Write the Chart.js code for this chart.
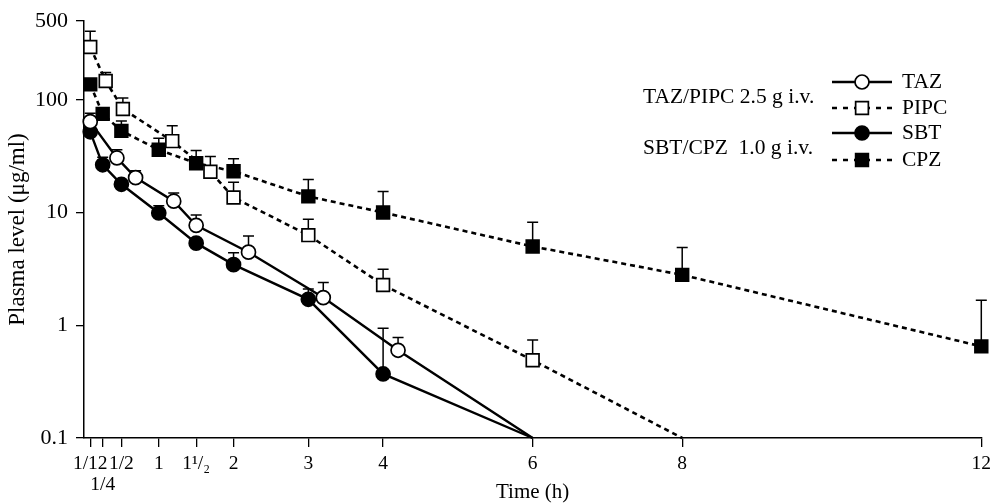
<!DOCTYPE html>
<html><head><meta charset="utf-8">
<script src="https://cdn.jsdelivr.net/npm/chart.js@4.4.1/dist/chart.umd.min.js"></script>
<style>html,body{margin:0;padding:0;background:#fff}#wrap{width:992px;height:503px}</style>
</head><body><div id="wrap"><canvas id="c" width="992" height="503"></canvas></div>
<script>
// ---- data (time in h, plasma level in µg/ml) ----
const tazTime = [1/12, 0.44, 0.69, 1.2, 1.5, 2.2, 3.2, 4.2, 6];
const tazVal  = [64, 30.5, 20.4, 12.6, 7.7, 4.45, 1.76, 0.6, 0.1];
const tazErr  = [76, 36, 23.5, 14.9, 9.5, 6.2, 2.4, 0.78, null];

const pipcTime = [1/12, 0.29, 0.52, 1.18, 1.69, 2, 3, 4, 6, 8];
const pipcVal  = [294, 147, 83, 43, 23, 13.6, 6.3, 2.28, 0.49, 0.1];
const pipcErr  = [405, 175, 104, 59, 31.4, 18.6, 8.7, 3.14, 0.74, null];

const sbtTime = [1/12, 0.25, 0.5, 1, 1.5, 2, 3, 4, 6];
const sbtVal  = [52, 26.5, 17.8, 9.9, 5.35, 3.45, 1.7, 0.37, 0.1];
const sbtErr  = [null, 31, null, 11.5, null, 4.4, 2.1, 0.94, null];

const cpzTime = [1/12, 0.25, 0.5, 1, 1.5, 2, 3, 4, 6, 8, 12];
const cpzVal  = [137, 75, 53, 36, 27.4, 23.2, 13.9, 10, 5.0, 2.8, 0.65];
const cpzErr  = [null, null, 65, 45.6, 35.5, 30, 19.6, 15.4, 8.2, 4.9, 1.67];

const xTickValues = [1/12, 1/4, 1/2, 1, 1.5, 2, 3, 4, 6, 8, 12];
const xTickLabels = ["1/12", ["", "1/4"], "1/2", "1", "1\u00B9/\u2082", "2", "3", "4", "6", "8", "12"];
const yTickValues = [0.1, 1, 10, 100, 500];
const yTickLabels = ["0.1", "1", "10", "100", "500"];

const groupLabels = ["TAZ/PIPC 2.5 g i.v.", "SBT/CPZ  1.0 g i.v."];

// ---- chart ----
const FONT = "'Liberation Serif', 'Times New Roman', serif";
const errs = [tazErr, pipcErr, sbtErr, cpzErr];

function pts(t, v) { return t.map((x, i) => ({x: x, y: v[i]})); }
function radii(v, r, lastHidden) { return v.map((_, i) => (lastHidden && i === v.length - 1) ? 0 : r); }

const dash = [5, 4];
const datasets = [
  {label: 'TAZ', data: pts(tazTime, tazVal), borderColor: '#000', borderWidth: 2.4, pointStyle: 'circle',
   pointRadius: radii(tazVal, 7, true), pointBackgroundColor: '#fff', pointBorderColor: '#000', pointBorderWidth: 1.7},
  {label: 'PIPC', data: pts(pipcTime, pipcVal), borderColor: '#000', borderWidth: 2.6, borderDash: dash, pointStyle: 'rect',
   pointRadius: radii(pipcVal, 9, true), pointBackgroundColor: '#fff', pointBorderColor: '#000', pointBorderWidth: 1.7},
  {label: 'SBT', data: pts(sbtTime, sbtVal), borderColor: '#000', borderWidth: 2.4, pointStyle: 'circle',
   pointRadius: radii(sbtVal, 7, true), pointBackgroundColor: '#000', pointBorderColor: '#000', pointBorderWidth: 1.7},
  {label: 'CPZ', data: pts(cpzTime, cpzVal), borderColor: '#000', borderWidth: 2.6, borderDash: dash, pointStyle: 'rect',
   pointRadius: radii(cpzVal, 9, false), pointBackgroundColor: '#000', pointBorderColor: '#000', pointBorderWidth: 1.7}
].map(d => Object.assign(d, {fill: false, tension: 0, clip: false, pointHoverRadius: d.pointRadius}));

const bgPlugin = {
  id: 'bg',
  beforeDraw(chart) { const c = chart.ctx; c.save(); c.fillStyle = '#fff'; c.fillRect(0, 0, chart.width, chart.height); c.restore(); }
};

const errorBarPlugin = {
  id: 'errbars',
  beforeDatasetsDraw(chart) {
    const ctx = chart.ctx, ys = chart.scales.y;
    ctx.save();
    ctx.strokeStyle = '#000'; ctx.lineWidth = 1.5; ctx.setLineDash([]);
    errs.forEach((arr, di) => {
      const meta = chart.getDatasetMeta(di);
      arr.forEach((e, j) => {
        if (e == null) return;
        const p = meta.data[j];
        const yt = ys.getPixelForValue(e);
        ctx.beginPath();
        ctx.moveTo(p.x, p.y); ctx.lineTo(p.x, yt);
        ctx.moveTo(p.x - 5.5, yt); ctx.lineTo(p.x + 5.5, yt);
        ctx.stroke();
      });
    });
    ctx.restore();
  }
};

function drawMarker(ctx, ds, x, y) {
  ctx.save();
  ctx.setLineDash([]);
  ctx.lineWidth = ds.pointBorderWidth;
  ctx.strokeStyle = ds.pointBorderColor;
  ctx.fillStyle = ds.pointBackgroundColor;
  ctx.beginPath();
  if (ds.pointStyle === 'circle') {
    ctx.arc(x, y, 7, 0, Math.PI * 2);
  } else {
    const s = 9 * Math.SQRT1_2;
    ctx.rect(x - s, y - s, 2 * s, 2 * s);
  }
  ctx.fill(); ctx.stroke();
  ctx.restore();
}

const legendPlugin = {
  id: 'customLegend',
  afterDraw(chart) {
    const ctx = chart.ctx;
    const rows = [82, 108, 133, 160];
    ctx.save();
    ctx.fillStyle = '#000';
    ctx.font = '21.5px ' + FONT;
    ctx.textBaseline = 'middle';
    ctx.textAlign = 'left';
    ctx.fillText(groupLabels[0], 643, 97);
    ctx.fillText(groupLabels[1], 643, 148);
    chart.data.datasets.forEach((ds, i) => {
      const y = rows[i];
      ctx.save();
      ctx.strokeStyle = '#000';
      ctx.lineWidth = ds.borderWidth;
      ctx.setLineDash(ds.borderDash ? [5, 6] : []);
      ctx.beginPath(); ctx.moveTo(832, y); ctx.lineTo(892, y); ctx.stroke();
      ctx.restore();
      drawMarker(ctx, ds, 862, y);
      ctx.fillStyle = '#000';
      ctx.fillText(ds.label, 902, y);
    });
    ctx.restore();
  }
};

new Chart(document.getElementById('c'), {
  type: 'line',
  data: {datasets},
  plugins: [bgPlugin, errorBarPlugin, legendPlugin],
  options: {
    responsive: false,
    animation: false,
    events: [],
    layout: {padding: {top: 21, right: 9, bottom: 0, left: 0}},
    plugins: {legend: {display: false}, tooltip: {enabled: false}},
    scales: {
      x: {
        type: 'linear', min: 0, max: 12,
        afterBuildTicks(s) { s.ticks = xTickValues.map(v => ({value: v})); },
        afterFit(s) { s.height = 65; s.paddingLeft = 0; s.paddingRight = 0; },
        ticks: {
          autoSkip: false, maxRotation: 0, color: '#000', padding: 6,
          font: {family: FONT, size: 19.5, lineHeight: 1.1},
          callback: (v, i) => xTickLabels[i]
        },
        grid: {display: true, drawOnChartArea: false, drawTicks: true, tickLength: 9, color: '#000', lineWidth: 1.3},
        border: {display: true, color: '#000', width: 1.5},
        title: {display: true, text: 'Time (h)', color: '#000', font: {family: FONT, size: 21, lineHeight: 1}, padding: {top: 0, bottom: 0}}
      },
      y: {
        type: 'logarithmic', min: 0.1, max: 500,
        afterBuildTicks(s) { s.ticks = yTickValues.map(v => ({value: v})); },
        afterFit(s) { s.width = 84; s.paddingTop = 0; s.paddingBottom = 0; },
        ticks: {
          autoSkip: false, color: '#000', padding: 8,
          font: {family: FONT, size: 22},
          callback: (v, i) => yTickLabels[i]
        },
        grid: {display: true, drawOnChartArea: false, drawTicks: true, tickLength: 8, color: '#000', lineWidth: 1.3},
        border: {display: true, color: '#000', width: 1.5},
        title: {display: true, text: 'Plasma level (\u03BCg/ml)', color: '#000', font: {family: FONT, size: 23, lineHeight: 1.2}, padding: {top: 4, bottom: 0}}
      }
    }
  }
});
</script>
</body></html>
